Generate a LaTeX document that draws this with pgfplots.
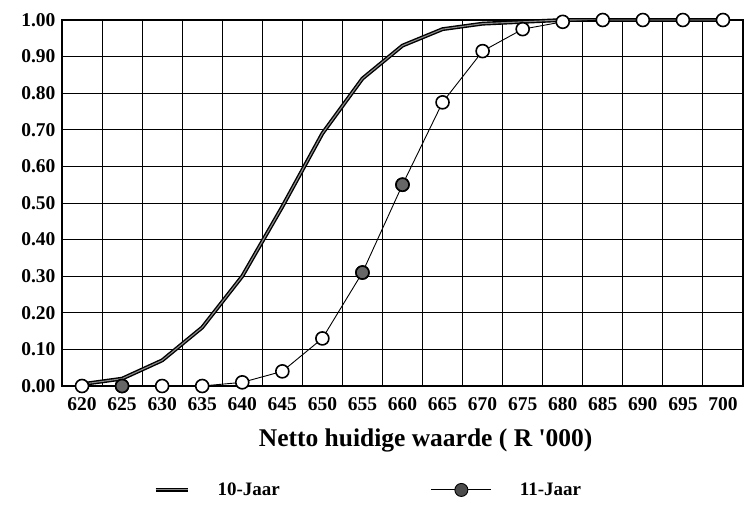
\documentclass[border=0pt]{standalone}
\usepackage{fontspec}
\setmainfont{Liberation Serif}
\usepackage{pgfplots}
\pgfplotsset{compat=1.18}
\pgfplotsset{
  leg10/.style={legend image code/.code={\draw[##1] (0pt,0pt) -- (32pt,0pt);}},
  leg11/.style={legend image code/.code={\draw[mark repeat=2, mark phase=2, ##1, mark options={fill=black!70}] plot coordinates {(0pt,0pt) (30pt,0pt) (60pt,0pt)};}},
}

\begin{document}
\begin{tikzpicture}
\begin{axis}[
  scale only axis, width=681pt, height=366pt,
  xmin=617.5, xmax=702.5, ymin=0, ymax=1,
  xtick={620,625,...,700},
  minor xtick={622.5,627.5,...,697.5},
  ytick={0,0.1,0.2,0.3,0.4,0.5,0.6,0.7,0.8,0.9,1.0},
  yticklabels={0.00,0.10,0.20,0.30,0.40,0.50,0.60,0.70,0.80,0.90,1.00},
  major tick length=0pt, minor tick length=0pt,
  ymajorgrids, xminorgrids,
  grid style={black, line width=0.9pt},
  minor grid style={black, line width=0.9pt},
  axis line style={black, line width=1.2pt},
  /pgf/number format/assume math mode=true,
  /pgf/number format/1000 sep={},
  tick label style={font=\fontsize{19.5}{22}\selectfont\bfseries},
  xticklabel style={yshift=-8pt},
  yticklabel style={xshift=-3pt},
  clip=false,
  xlabel={Netto huidige waarde ( R \textquotesingle000)},
  xlabel style={font=\fontsize{25.5}{29}\selectfont\bfseries, at={(axis description cs:0.534,-0.150)}, anchor=center},
  legend columns=2,
  legend style={draw=none, fill=none, font=\fontsize{19}{22}\selectfont\bfseries,
    at={(0.469,-0.284)}, anchor=center,
    /tikz/every even column/.append style={column sep=123pt},
    nodes={inner xsep=28pt}},
]
\addplot[draw=black, line width=1.4pt, double=black!45, double distance=1.1pt, leg10]
  coordinates {(620,0.005) (625,0.02) (630,0.07) (635,0.16) (640,0.30) (645,0.49) (650,0.69) (655,0.84) (660,0.93) (665,0.975) (670,0.99) (675,0.995) (680,1.0) (685,1.0) (690,1.0) (695,1.0) (700,1.0)};
\addlegendentry{10-Jaar}
\addplot[draw=black, line width=0.9pt, mark=*, mark size=6.5pt,
  mark options={fill=white, draw=black, line width=1.6pt}, leg11]
  coordinates {(620,0) (625,0) (630,0) (635,0) (640,0.01) (645,0.04) (650,0.13) (655,0.31) (660,0.55) (665,0.775) (670,0.915) (675,0.975) (680,0.995) (685,1.0) (690,1.0) (695,1.0) (700,1.0)};
\addlegendentry{11-Jaar}
\addplot[only marks, mark=*, mark size=6.5pt, mark options={fill=black!60, draw=black, line width=1.6pt}, forget plot]
  coordinates {(625,0) (655,0.31) (660,0.55)};
\end{axis}
\pgfresetboundingbox
\path (current axis.south west) ++(-62pt,-118pt) rectangle ++(745pt,504pt);
\end{tikzpicture}
\end{document}
